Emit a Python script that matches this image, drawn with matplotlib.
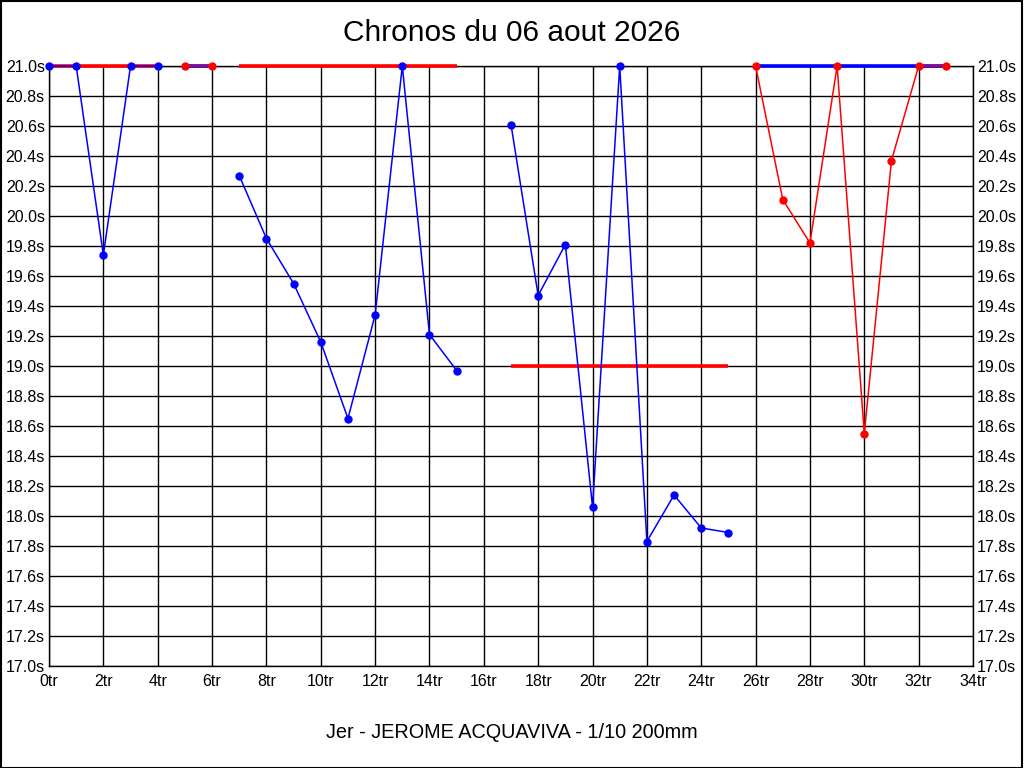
import matplotlib
matplotlib.use("Agg")
import matplotlib.pyplot as plt
from matplotlib.patches import Rectangle

plt.rcParams['font.family'] = ['Liberation Sans', 'DejaVu Sans']

# one stint per entry: laps, lap times (s), series colour, reference level
stint_laps = [
    [0, 1, 2, 3, 4],
    [5, 6],
    [7, 8, 9, 10, 11, 12, 13, 14, 15],
    [17, 18, 19, 20, 21, 22, 23, 24, 25],
    [26, 27, 28, 29, 30, 31, 32, 33],
]
stint_times = [
    [21.0, 21.0, 19.74, 21.0, 21.0],
    [21.0, 21.0],
    [20.27, 19.85, 19.55, 19.16, 18.65, 19.34, 21.0, 19.21, 18.97],
    [20.61, 19.47, 19.81, 18.06, 21.0, 17.83, 18.14, 17.92, 17.89],
    [21.0, 20.11, 19.82, 21.0, 18.55, 20.37, 21.0, 21.0],
]
stint_colors = ['blue', 'red', 'blue', 'blue', 'red']
ref_colors = ['red', 'blue', 'red', 'red', 'blue']
ref_levels = [21.0, 21.0, 21.0, 19.0, 21.0]

x_ticks = list(range(0, 35, 2))
y_ticks = [17.0 + 0.2 * i for i in range(21)]

fig = plt.figure(figsize=(10.24, 7.68), dpi=100)
ax = fig.add_axes([49 / 1024, 1 - 666 / 768, 924 / 1024, 600 / 768])

for laps, times, col, rcol, lvl in zip(stint_laps, stint_times, stint_colors, ref_colors, ref_levels):
    ax.plot([laps[0], laps[-1]], [lvl, lvl], color=rcol, lw=2.6, zorder=3,
            solid_capstyle='butt', clip_on=False)
    ax.plot(laps, times, color=col, lw=1.1, zorder=4, clip_on=False)
    ax.plot(laps, times, 'o', color=col, ms=5, zorder=5, clip_on=False)

ax.set_xlim(0, 34)
ax.set_ylim(17.0, 21.0)
ax.set_xticks(x_ticks)
ax.set_xticklabels([f"{t}tr" for t in x_ticks])
ax.set_yticks(y_ticks)
ax.set_yticklabels([f"{t:.1f}s" for t in y_ticks])
ax.tick_params(length=0, labelsize=11.5, pad=3, labelright=True, right=True)
ax.tick_params(axis='x', pad=6)
ax.grid(True, color='black', lw=1)
for s in ax.spines.values():
    s.set_linewidth(1)
ax.set_axisbelow(True)

fig.text(0.5, 1 - 33 / 768, "Chronos du 06 aout 2026", ha='center', va='center', fontsize=21.5)
fig.text(0.5, 1 - 733 / 768, "Jer - JEROME ACQUAVIVA - 1/10 200mm", ha='center', va='center', fontsize=14.3)

# thin frame around the whole picture
fig.patches.append(Rectangle((0.0005, 0.0005), 0.998, 0.998, transform=fig.transFigure,
                             fill=False, edgecolor='black', lw=1.5))

fig.savefig("out.png", dpi=100)
